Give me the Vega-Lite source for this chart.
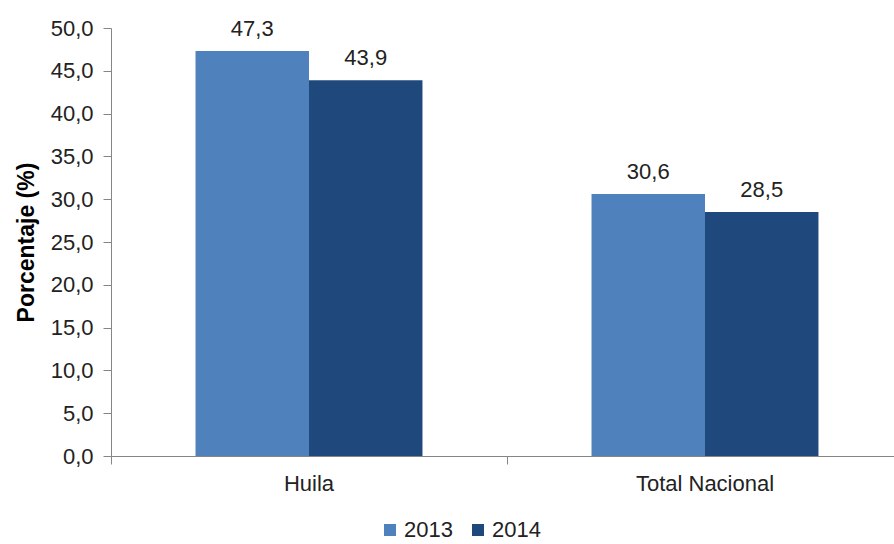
{
  "$schema": "https://vega.github.io/schema/vega-lite/v6.json",
  "autosize": "none",
  "width": 792,
  "height": 428,
  "padding": {"left": 111, "top": 28, "right": 0, "bottom": 88},
  "background": "white",
  "config": {
    "locale": {"number": {"decimal": ",", "thousands": ".", "grouping": [3], "currency": ["$", ""]}},
    "font": "Liberation Sans",
    "view": {"stroke": null}
  },
  "data": {
    "values": [
      {"region": "Huila", "year": "2013", "value": 47.3},
      {"region": "Huila", "year": "2014", "value": 43.9},
      {"region": "Total Nacional", "year": "2013", "value": 30.6},
      {"region": "Total Nacional", "year": "2014", "value": 28.5}
    ]
  },
  "encoding": {
    "x": {
      "field": "region", "type": "nominal", "sort": null,
      "scale": {"paddingInner": 0, "paddingOuter": 0},
      "axis": {
        "title": null, "labelAngle": 0, "labelFontSize": 22, "labelColor": "#222",
        "labelPadding": 9, "domainColor": "#868686", "tickColor": "#868686",
        "tickSize": 8, "bandPosition": 0, "labelFont": "Liberation Sans"
      }
    },
    "xOffset": {"field": "year", "type": "nominal", "scale": {"paddingInner": 0, "paddingOuter": 0.745}}
  },
  "layer": [
    {
      "mark": {"type": "bar"},
      "encoding": {
        "y": {
          "field": "value", "type": "quantitative",
          "scale": {"domain": [0, 50]},
          "axis": {
            "title": "Porcentaje (%)", "titleFontSize": 23, "titleFontWeight": "bold",
            "titleColor": "#000", "titlePadding": 12,
            "values": [0, 5, 10, 15, 20, 25, 30, 35, 40, 45, 50], "format": ".1f",
            "labelFontSize": 22, "labelColor": "#222", "labelPadding": 10,
            "grid": false, "domainColor": "#868686", "tickColor": "#868686", "tickSize": 8
          }
        },
        "color": {
          "field": "year", "type": "nominal",
          "scale": {"domain": ["2013", "2014"], "range": ["#4F81BD", "#1F497D"]},
          "legend": {
            "title": null, "orient": "none", "direction": "horizontal",
            "legendX": 268, "legendY": 491, "symbolType": "square", "symbolSize": 144,
            "labelFontSize": 22, "labelColor": "#222", "columnPadding": 14, "labelOffset": 3,
            "symbolStrokeWidth": 0
          }
        }
      }
    },
    {
      "mark": {"type": "text", "baseline": "alphabetic", "dy": -15, "fontSize": 22, "color": "#222"},
      "encoding": {
        "y": {"field": "value", "type": "quantitative"},
        "text": {"field": "value", "type": "quantitative", "format": ".1f"}
      }
    }
  ]
}
